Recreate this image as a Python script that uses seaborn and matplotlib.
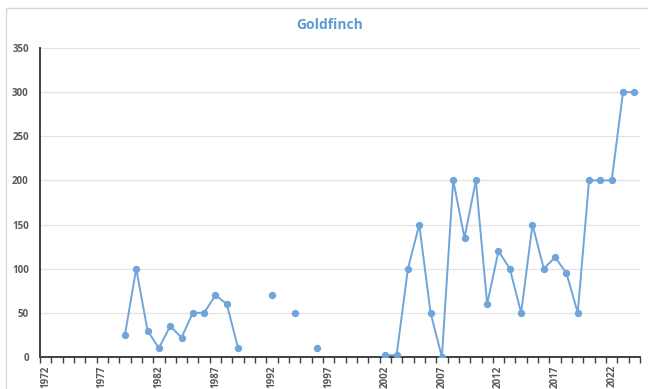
import numpy as np
import pandas as pd
import matplotlib
matplotlib.use("Agg")
import matplotlib.pyplot as plt
from matplotlib.patches import Rectangle
from matplotlib.ticker import FixedLocator
import seaborn as sns

# Annual Goldfinch counts (missing years are left as gaps)
years = list(range(1972, 2025))
count_years = [1979, 1980, 1981, 1982, 1983, 1984, 1985, 1986, 1987, 1988, 1989,
               1992, 1994, 1996,
               2002, 2003, 2004, 2005, 2006, 2007, 2008, 2009, 2010, 2011, 2012,
               2013, 2014, 2015, 2016, 2017, 2018, 2019, 2020, 2021, 2022, 2023, 2024]
counts = [25, 100, 30, 10, 35, 22, 50, 50, 70, 60, 10,
          70, 50, 10,
          2, 2, 100, 150, 50, 0, 200, 135, 200, 60, 120,
          100, 50, 150, 100, 113, 95, 50, 200, 200, 200, 300, 300]
tick_years = list(range(1972, 2025, 5))
y_ticks = [0, 50, 100, 150, 200, 250, 300, 350]

df = pd.DataFrame({"year": count_years, "count": counts})
# consecutive years form one connected run
df["run"] = (df["year"].diff() != 1).cumsum()

sns.set_theme(style="white")
plt.rcParams["font.family"] = ["Open Sans", "DejaVu Sans"]

blue = "#6FA5DA"
title_blue = "#5B9BD5"
gray_txt = "#595959"

fig = plt.figure(figsize=(6.48, 3.89), dpi=100)
ax = fig.add_axes([40 / 648, 1 - 357 / 389, 600 / 648, 309 / 389])

sns.lineplot(data=df, x="year", y="count", units="run", estimator=None,
             color=blue, linewidth=1.4, ax=ax, legend=False)
sns.scatterplot(data=df, x="year", y="count", color=blue, s=28,
                edgecolor=blue, linewidth=0, ax=ax, legend=False, zorder=3)

ax.set_xlim(years[0] - 0.5, years[-1] + 0.5)
ax.set_ylim(0, 350)
ax.set_yticks(y_ticks)
ax.set_yticklabels([str(v) for v in y_ticks], fontsize=7, color=gray_txt,
                   fontweight="bold")
ax.yaxis.grid(True, color="#E3E3E3", linewidth=0.9)
ax.set_axisbelow(True)

ax.set_xticks(tick_years)
ax.set_xticklabels([str(y) for y in tick_years], rotation=90, fontsize=7,
                   color=gray_txt, fontweight="bold")
ax.xaxis.set_minor_locator(FixedLocator([y - 0.5 for y in years] + [years[-1] + 0.5]))
ax.tick_params(axis="x", which="major", length=0, pad=6)
ax.tick_params(axis="x", which="minor", length=4, width=1, color="#404040",
               direction="out", bottom=True)
ax.tick_params(axis="y", length=0, pad=8)

ax.set_xlabel("")
ax.set_ylabel("")
for side in ["top", "right"]:
    ax.spines[side].set_visible(False)
ax.spines["left"].set_color("#404040")
ax.spines["left"].set_linewidth(1.4)
ax.spines["bottom"].set_color("#404040")
ax.spines["bottom"].set_linewidth(1.4)

fig.text(330 / 648, 1 - 25 / 389, "Goldfinch", ha="center", va="center",
         fontsize=10, fontweight="bold", color=title_blue)

# chart frame
fig.patches.append(Rectangle((6 / 648, -0.05), 1.2, 1 - 8 / 389 + 0.05,
                             transform=fig.transFigure, fill=False,
                             edgecolor="#D9D9D9", linewidth=1))

fig.savefig("out.png", dpi=100, facecolor="white")
